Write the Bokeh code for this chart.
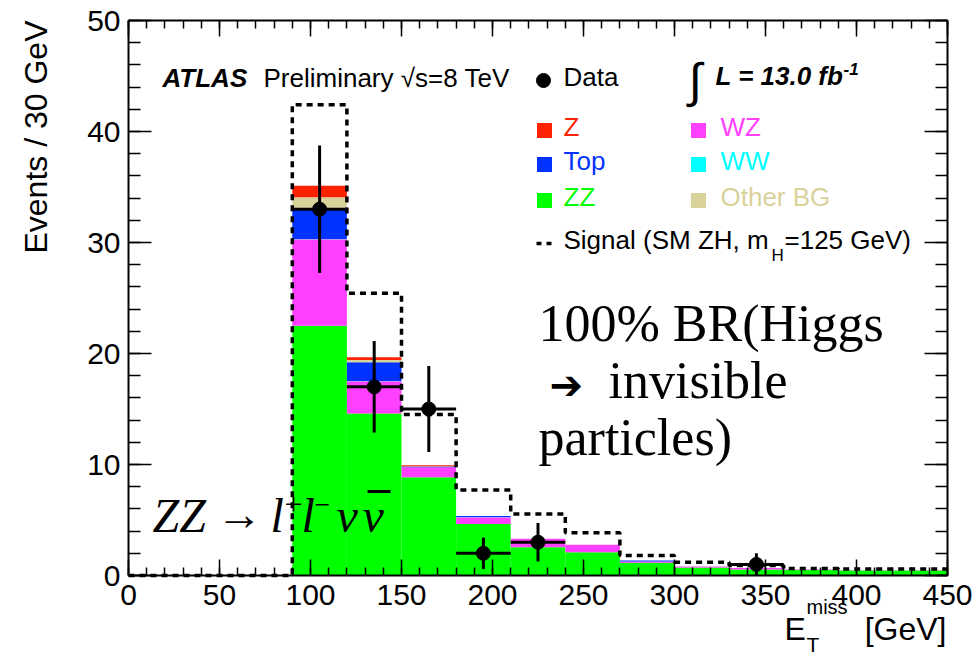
import numpy as np
from bokeh.plotting import figure
from bokeh.models import Range1d, LinearAxis, SingleIntervalTicker, Label
from bokeh.embed import file_html
from bokeh.resources import INLINE

# ---- histogram contents: 30 GeV bins from 0 to 450 GeV ----
bin_edges = list(range(0, 451, 30))
zz_bg    = [0, 0, 0, 22.5, 14.6, 8.85, 4.65, 2.55, 2.10, 1.15, 0.72, 0.55, 0.50, 0.45, 0.45]
wz_bg    = [0, 0, 0, 7.8, 2.9, 0.9, 0.6, 0.75, 0.67, 0.12, 0.10, 0.12, 0.03, 0.03, 0.03]
ww_bg    = [0, 0, 0, 0.02, 0.02, 0.01, 0.01, 0.0, 0.0, 0.0, 0.0, 0.0, 0.0, 0.0, 0.0]
top_bg   = [0, 0, 0, 2.8, 1.7, 0.05, 0.10, 0.0, 0.0, 0.08, 0.0, 0.0, 0.0, 0.0, 0.0]
other_bg = [0, 0, 0, 0.95, 0.2, 0.03, 0.0, 0.0, 0.0, 0.0, 0.0, 0.0, 0.0, 0.0, 0.0]
z_bg     = [0, 0, 0, 1.05, 0.25, 0.1, 0.0, 0.0, 0.0, 0.0, 0.0, 0.0, 0.0, 0.0, 0.0]
signal   = [0, 0, 0, 7.3, 5.75, 4.57, 2.35, 2.25, 1.08, 0.45, 0.38, 0.23, 0.10, 0.10, 0.10]
data     = [0, 0, 0, 33, 17, 15, 2, 3, 0, 0, 0, 1, 0, 0, 0]

# stacking order, bottom to top
stack_names  = ["ZZ", "WZ", "WW", "Top", "Other BG", "Z"]
stack_values = [zz_bg, wz_bg, ww_bg, top_bg, other_bg, z_bg]
stack_colors = {"ZZ": "#00ff00", "WZ": "#ff40ff", "WW": "#00ffff",
                "Top": "#0033ff", "Other BG": "#d9d29b", "Z": "#ff2200"}

# legend layout (two columns of filled boxes)
legend_rows = [("Z", "WZ"), ("Top", "WW"), ("ZZ", "Other BG")]

# ---- page geometry (canvas pixels) ----
# The plotting frame spans the whole canvas; the axes sit at fixed data
# positions so that titles and labels around the histogram box stay unclipped.
W, H = 976, 655
BL, BR, BT, BB = 128, 947, 20, 575   # histogram box edges
XMAX, YMAX = 450, 50


def dx(px):
    return (px - BL) * XMAX / (BR - BL)


def dy(py):
    return (BB - py) * YMAX / (BB - BT)


p = figure(width=W, height=H,
           x_range=Range1d(dx(0), dx(W)), y_range=Range1d(dy(H), dy(0)),
           output_backend="svg", toolbar_location=None, min_border=0)
p.title.visible = False
p.xgrid.visible = False
p.ygrid.visible = False
p.outline_line_color = None
p.background_fill_color = "white"
p.border_fill_color = "white"

left = np.array(bin_edges[:-1], dtype=float)
right = np.array(bin_edges[1:], dtype=float)
centers = 0.5 * (left + right)

# stacked backgrounds
bottom = np.zeros(len(left))
for name, vals in zip(stack_names, stack_values):
    vals = np.array(vals, dtype=float)
    p.quad(left=left, right=right, bottom=bottom, top=bottom + vals,
           fill_color=stack_colors[name], line_color=None)
    bottom = bottom + vals

# signal on top of total background, drawn as dashed outline
total = bottom + np.array(signal, dtype=float)
p.step(x=bin_edges, y=list(total) + [total[-1]], mode="after",
       line_color="black", line_width=3.5, line_dash="6 5")

# data points with Poisson errors
d = np.array(data, dtype=float)
mask = d > 0
err = np.sqrt(d[mask])
p.segment(x0=centers[mask], x1=centers[mask], y0=d[mask] - err, y1=d[mask] + err,
          line_color="black", line_width=3)
p.segment(x0=left[mask], x1=right[mask], y0=d[mask], y1=d[mask],
          line_color="black", line_width=3)
p.scatter(x=centers[mask], y=d[mask], size=14, color="black")

# ---- axes forming the box, ticks pointing inwards on all four sides ----
FONT = "Liberation Sans"
X_MAJOR, Y_MAJOR = 50, 10


def style_axis(ax, major_in, minor_in):
    ax.axis_line_color = "black"
    ax.axis_line_width = 2
    ax.major_tick_in = major_in
    ax.major_tick_out = 0
    ax.minor_tick_in = minor_in
    ax.minor_tick_out = 0
    ax.major_tick_line_width = 1.5
    ax.minor_tick_line_width = 1.5
    ax.major_label_text_font = FONT
    ax.major_label_text_font_size = "30px"
    ax.major_label_text_color = "black"
    ax.major_label_standoff = 9


def blank_labels(ax, step, vmax):
    ax.major_label_overrides = {v: "" for v in range(0, vmax + 1, step)}
    ax.major_label_standoff = 0


xaxis = p.xaxis[0]
yaxis = p.yaxis[0]
xaxis.ticker = SingleIntervalTicker(interval=X_MAJOR, num_minor_ticks=5)
yaxis.ticker = SingleIntervalTicker(interval=Y_MAJOR, num_minor_ticks=5)
xaxis.fixed_location = 0
yaxis.fixed_location = 0
xaxis.bounds = (0, XMAX)
yaxis.bounds = (0, YMAX)
style_axis(xaxis, 16, 8)
style_axis(yaxis, 23, 12)
yaxis.major_label_standoff = 8

top_ax = LinearAxis(ticker=SingleIntervalTicker(interval=X_MAJOR, num_minor_ticks=5),
                    fixed_location=YMAX, bounds=(0, XMAX))
style_axis(top_ax, 16, 8)
blank_labels(top_ax, X_MAJOR, XMAX)
p.add_layout(top_ax, "above")
right_ax = LinearAxis(ticker=SingleIntervalTicker(interval=Y_MAJOR, num_minor_ticks=5),
                      fixed_location=XMAX, bounds=(0, YMAX))
style_axis(right_ax, 23, 12)
blank_labels(right_ax, Y_MAJOR, YMAX)
p.add_layout(right_ax, "right")

# the text box places an alphabetic anchor about 0.4 em above the drawn
# baseline; shift anchors so the given py is where the baseline lands
BASELINE_SHIFT = 0.40


def label(px, py, text, size, color="black", font=FONT, style="normal",
          align="left"):
    p.add_layout(Label(x=dx(px), y=dy(py - BASELINE_SHIFT * size), text=text,
                       text_font=font, text_font_size=f"{size}px",
                       text_color=color, text_font_style=style,
                       text_align=align, text_baseline="alphabetic"))


# axis titles
p.add_layout(Label(x=dx(35), y=dy(BT), text="Events / 30 GeV", text_font=FONT,
                   text_font_size="32px", text_color="black", text_align="right",
                   text_baseline="middle", angle=np.pi / 2))
label(784, 641, "E", 32)
label(806, 614, "miss", 20)
label(806, 652, "T", 21)
label(946, 641, "[GeV]", 32, align="right")

# experiment tag
label(162, 88, "ATLAS", 26, style="bold italic")
label(263, 88, "Preliminary \u221as=8 TeV", 26)

# legend: data marker
p.scatter(x=[dx(543)], y=[dy(80)], size=14, color="black")
label(563, 87, "Data", 26)

# luminosity
label(688, 99, "\u222b", 48)
label(715, 86, "L = 13.0 fb", 26, style="bold italic")
label(843, 75, "-1", 17, style="bold italic")

# legend: filled boxes
row_y = [130, 164, 200]
col_x = [544, 698]
text_x = [563, 720]
for ry, names in zip(row_y, legend_rows):
    for cx, tx, name in zip(col_x, text_x, names):
        c = stack_colors[name]
        p.scatter(x=[dx(cx)], y=[dy(ry)], marker="square", size=15,
                  color=c, line_color=None)
        label(tx, ry + 7, name, 26, color=c)

# legend: signal line
p.line(x=[dx(536), dx(552)], y=[dy(243), dy(243)], line_color="black",
       line_width=3.5, line_dash="5 5")
label(563, 250, "Signal (SM ZH, m", 26)
label(771, 262, "H", 17)
label(784, 250, "=125 GeV)", 26)

# process annotations
SERIF = "Liberation Serif"
label(538, 344, "100% BR(Higgs", 52, font=SERIF)
label(549, 400, "\u2794", 40, font="DejaVu Sans")
label(608, 401, "invisible", 52, font=SERIF)
label(538, 458, "particles)", 52, font=SERIF)

label(152, 534, "ZZ", 48, font=SERIF, style="italic")
label(216, 532, "\u2192", 46, font=SERIF)
label(270, 534, "l", 48, font=SERIF, style="italic")
label(284, 517, "+", 32, font=SERIF)
label(301, 534, "l", 48, font=SERIF, style="italic")
label(314, 516, "\u2212", 28, font=SERIF)
label(336, 534, "\u03bd", 48, font=SERIF, style="italic")
label(362, 534, "\u03bd", 48, font=SERIF, style="italic")
p.segment(x0=[dx(367)], x1=[dx(390)], y0=[dy(491)], y1=[dy(491)],
          line_color="black", line_width=3)

open("out.html", "w").write(file_html(p, INLINE))
